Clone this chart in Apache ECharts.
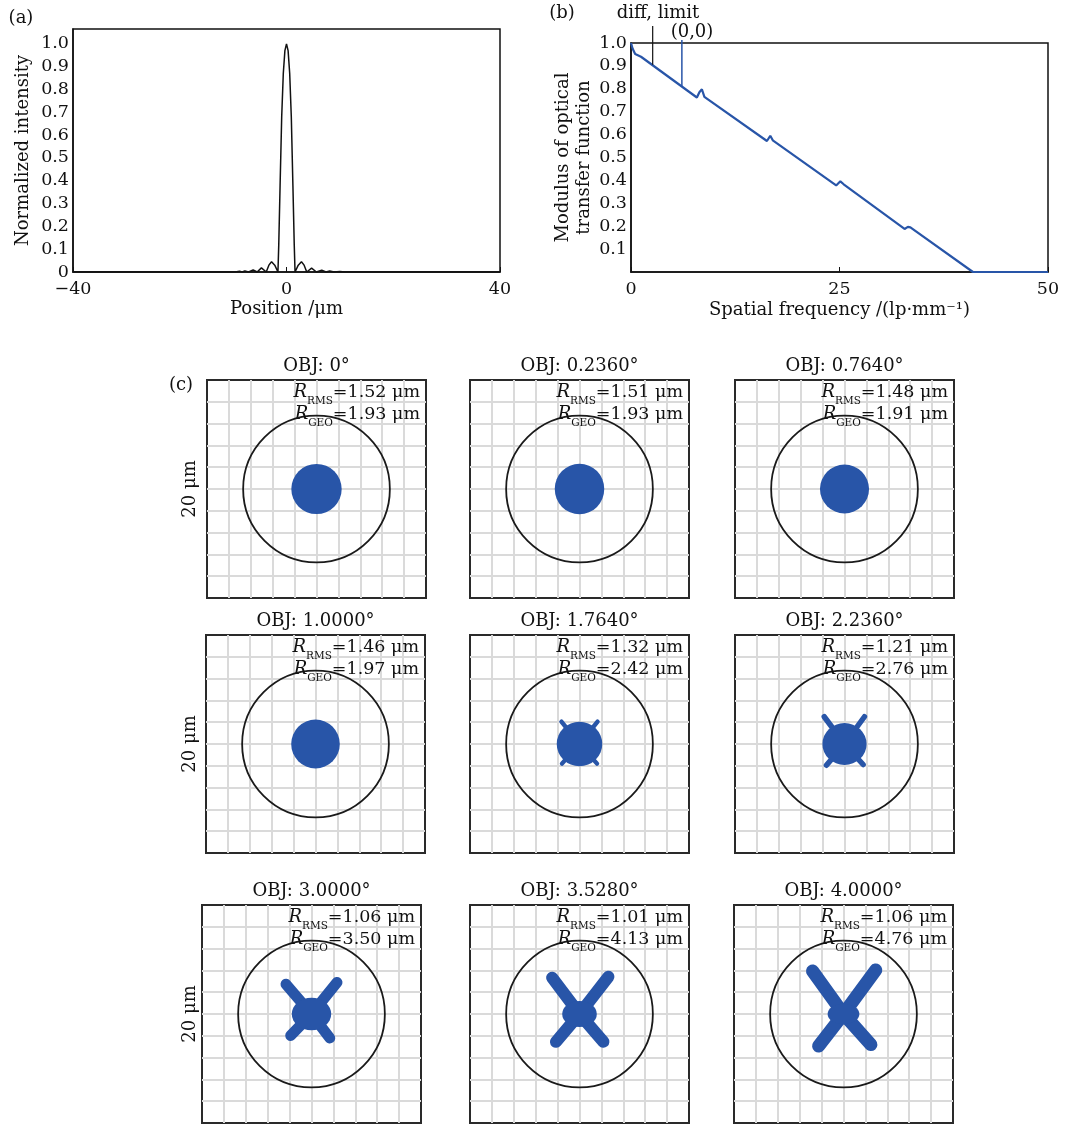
<!DOCTYPE html>
<html>
<head>
<meta charset="utf-8">
<script src="https://cdn.jsdelivr.net/npm/echarts@6/dist/echarts.min.js"></script>
<style>
  html, body { margin: 0; padding: 0; background: #fff; }
  #chart { width: 1082px; height: 1125px; }
</style>
</head>
<body>
<div id="chart"></div>
<script>
// (a) line spread function
const psfPosition = [-40, -11, -9.6, -8.8, -8.3, -7.8, -7.1, -6.25, -5.5, -4.7, -3.8, -3.3, -2.8, -2.2, -1.6, -1.45, -1.2, -0.9, -0.6, -0.3, 0,
  0.3, 0.6, 0.9, 1.2, 1.45, 1.6, 2.2, 2.8, 3.3, 3.8, 4.7, 5.6, 6.6, 7.4, 8.1, 8.9, 10, 11, 40];
const psfIntensity = [0, 0, 0, 0.003, 0, 0.005, 0, 0.009, 0, 0.018, 0, 0.03, 0.045, 0.03, 0, 0.12, 0.38, 0.68, 0.87, 0.97, 1.0,
  0.97, 0.87, 0.68, 0.38, 0.12, 0, 0.03, 0.045, 0.03, 0, 0.017, 0, 0.008, 0, 0.004, 0, 0.002, 0, 0];

// (b) MTF
const mtfFrequency = [0, 0.2, 0.5, 1.2, 7.9, 8.2, 8.5, 8.8, 16.3, 16.7, 17.0, 24.6, 25.1, 25.5, 32.8, 33.2, 33.5, 41.0, 50];
const mtfModulus = [1.0, 0.975, 0.952, 0.94, 0.762, 0.785, 0.798, 0.765, 0.572, 0.595, 0.575, 0.378, 0.396, 0.383, 0.188, 0.197, 0.195, 0, 0];
const diffLimitMark = [[2.6, 0.905], [2.6, 1.074]];
const originMark = [[6.1, 0.81], [6.1, 1.013]];

// (c) spot diagrams, units um
const fieldAngles = ['0°', '0.2360°', '0.7640°', '1.0000°', '1.7640°', '2.2360°', '3.0000°', '3.5280°', '4.0000°'];
const rmsRadius = ['1.52', '1.51', '1.48', '1.46', '1.32', '1.21', '1.06', '1.01', '1.06'];
const geoRadius = ['1.93', '1.93', '1.91', '1.97', '2.42', '2.76', '3.50', '4.13', '4.76'];
const airyRadius = 6.7;
const coreRadius = [[2.3, 2.3], [2.26, 2.32], [2.24, 2.24], [2.22, 2.24], [2.08, 2.03], [2.02, 1.92], [1.8, 1.5], [1.58, 1.2], [1.45, 0.95]];
const armTips = [
  [], [], [], [],
  [[-1.65, 2.05], [1.65, 2.05], [-1.6, -1.8], [1.6, -1.8]],
  [[-1.85, 2.5], [1.82, 2.5], [-1.65, -1.95], [1.7, -1.88]],
  [[-2.33, 2.73], [2.33, 2.9], [-1.9, -1.97], [1.67, -2.2]],
  [[-2.5, 3.33], [2.64, 3.42], [-2.15, -2.55], [2.18, -2.55]],
  [[-2.82, 3.94], [2.94, 4.03], [-2.27, -2.94], [2.5, -2.8]]
];
const armWidth = [0, 0, 0, 0, 0.4, 0.5, 1.0, 1.1, 1.2];

const FONT = 'DejaVu Serif';
const INK = '#111';
const BLUE = '#2855a8';

const chart = echarts.init(document.getElementById('chart'));

const tickFont = { fontFamily: FONT, fontSize: 17.5, color: INK };
const nameFont = { fontFamily: FONT, fontSize: 18, color: INK };

const grid = [
  { left: 73, top: 29, width: 427, height: 243, show: true, borderColor: INK, borderWidth: 1.5 },
  { left: 631, top: 43, width: 417, height: 229, show: true, borderColor: INK, borderWidth: 1.5 }
];
const xAxis = [
  {
    type: 'value', gridIndex: 0, min: -40, max: 40, interval: 40,
    name: 'Position /μm', nameLocation: 'middle', nameGap: 28, nameTextStyle: nameFont,
    axisLine: { onZero: false, lineStyle: { color: INK, width: 1.5 } },
    axisTick: { inside: true, length: 5, lineStyle: { color: INK } },
    axisLabel: Object.assign({ margin: 8, formatter: v => (v < 0 ? '−' + Math.abs(v) : String(v)) }, tickFont),
    splitLine: { show: false }
  },
  {
    type: 'value', gridIndex: 1, min: 0, max: 50, interval: 25,
    name: 'Spatial frequency /(lp·mm⁻¹)', nameLocation: 'middle', nameGap: 29, nameTextStyle: nameFont,
    axisLine: { onZero: false, lineStyle: { color: INK, width: 1.5 } },
    axisTick: { inside: true, length: 5, lineStyle: { color: INK } },
    axisLabel: Object.assign({ margin: 8 }, tickFont),
    splitLine: { show: false }
  }
];
const yAxis = [
  {
    type: 'value', gridIndex: 0, min: 0, max: 1.065, interval: 0.1,
    name: 'Normalized intensity', nameLocation: 'middle', nameGap: 41, nameTextStyle: nameFont,
    axisLine: { onZero: false, lineStyle: { color: INK, width: 1.5 } },
    axisTick: { show: false },
    axisLabel: Object.assign({ margin: 4, formatter: v => (v > 1.001 ? '' : (v === 0 ? '0' : v.toFixed(1))) }, tickFont),
    splitLine: { show: false }
  },
  {
    type: 'value', gridIndex: 1, min: 0, max: 1, interval: 0.1,
    name: 'Modulus of optical\ntransfer function', nameLocation: 'middle', nameGap: 36,
    nameTextStyle: Object.assign({ lineHeight: 21 }, nameFont),
    axisLine: { onZero: false, lineStyle: { color: INK, width: 1.5 } },
    axisTick: { show: false },
    axisLabel: Object.assign({ margin: 4, formatter: v => (v === 0 ? '' : v.toFixed(1)) }, tickFont),
    splitLine: { show: false }
  }
];

const series = [
  {
    type: 'line', xAxisIndex: 0, yAxisIndex: 0, showSymbol: false, silent: true,
    data: psfPosition.map((x, i) => [x, psfIntensity[i]]),
    lineStyle: { color: INK, width: 1.5 }
  },
  {
    type: 'line', xAxisIndex: 1, yAxisIndex: 1, showSymbol: false, silent: true,
    data: mtfFrequency.map((x, i) => [x, mtfModulus[i]]),
    lineStyle: { color: BLUE, width: 2.2 }
  },
  {
    type: 'line', xAxisIndex: 1, yAxisIndex: 1, showSymbol: false, silent: true, clip: false,
    data: diffLimitMark, lineStyle: { color: INK, width: 1.2 }
  },
  {
    type: 'line', xAxisIndex: 1, yAxisIndex: 1, showSymbol: false, silent: true, clip: false,
    data: originMark, lineStyle: { color: BLUE, width: 1.5 }
  }
];

const labelStyle = text => ({ text: text, fontFamily: FONT, fontSize: 18, fill: INK, align: 'center', verticalAlign: 'middle' });
const graphic = [
  { type: 'text', x: 21, y: 18, style: labelStyle('(a)') },
  { type: 'text', x: 562, y: 13, style: labelStyle('(b)') },
  { type: 'text', x: 181, y: 385, style: labelStyle('(c)') },
  { type: 'text', x: 658, y: 13, style: labelStyle('diff, limit') },
  { type: 'text', x: 692, y: 32, style: labelStyle('(0,0)') }
];

// spot panel layout
const rowTop = [380, 635, 905];
const colLeft = [[207, 470, 735], [206, 470, 735], [202, 470, 734]];
const boxW = 219, boxH = 218;

function renderAiry(params, api) {
  const c = api.coord([api.value(0), api.value(1)]);
  const r = api.size([api.value(2), 0])[0];
  return { type: 'circle', shape: { cx: c[0], cy: c[1], r: r }, style: { fill: 'none', stroke: '#1a1a1a', lineWidth: 1.8 } };
}
function renderArm(params, api) {
  const p0 = api.coord([api.value(0), api.value(1)]);
  const p1 = api.coord([api.value(2), api.value(3)]);
  const w = api.size([api.value(4), 0])[0];
  return { type: 'line', shape: { x1: p0[0], y1: p0[1], x2: p1[0], y2: p1[1] }, style: { stroke: BLUE, lineWidth: w, lineCap: 'round' } };
}
function renderCore(params, api) {
  const c = api.coord([api.value(0), api.value(1)]);
  const s = api.size([api.value(2), api.value(3)]);
  return { type: 'circle', x: c[0], y: c[1], scaleY: s[1] / s[0], shape: { cx: 0, cy: 0, r: s[0] }, style: { fill: BLUE } };
}

fieldAngles.forEach((angle, i) => {
  const row = Math.floor(i / 3), col = i % 3;
  const left = colLeft[row][col], top = rowTop[row];
  const g = grid.length;
  grid.push({ left: left, top: top, width: boxW, height: boxH, show: true, borderColor: '#2a2a2a', borderWidth: 2 });
  const spotAxis = {
    type: 'value', gridIndex: g, min: -10, max: 10, interval: 2,
    axisLine: { show: false }, axisTick: { show: false }, axisLabel: { show: false },
    splitLine: { show: true, showMinLine: false, showMaxLine: false, lineStyle: { color: '#dadada', width: 2 } }
  };
  xAxis.push(Object.assign({}, spotAxis));
  yAxis.push(Object.assign({}, spotAxis));
  series.push({ type: 'custom', xAxisIndex: g, yAxisIndex: g, silent: true, data: [[0, 0, airyRadius]], renderItem: renderAiry });
  series.push({
    type: 'custom', xAxisIndex: g, yAxisIndex: g, silent: true,
    data: armTips[i].map(t => [0, 0, t[0], t[1], armWidth[i]]), renderItem: renderArm
  });
  series.push({ type: 'custom', xAxisIndex: g, yAxisIndex: g, silent: true, data: [[0, 0, coreRadius[i][0], coreRadius[i][1]]], renderItem: renderCore });

  const rich = {
    r: { fontFamily: FONT, fontSize: 18, fontStyle: 'italic', fill: INK },
    s: { fontFamily: FONT, fontSize: 10.5, fill: INK, padding: [18, 0, 0, 0] }
  };
  graphic.push({ type: 'text', x: left + boxW / 2, y: top - 14, style: labelStyle('OBJ: ' + angle) });
  graphic.push({ type: 'text', x: left + boxW - 6, y: top + 12, z: 10, style: { text: '{r|R}{s|RMS}=' + rmsRadius[i] + ' μm', rich: rich, fontFamily: FONT, fontSize: 17.5, fill: INK, align: 'right', verticalAlign: 'middle' } });
  graphic.push({ type: 'text', x: left + boxW - 6, y: top + 34, z: 10, style: { text: '{r|R}{s|GEO}=' + geoRadius[i] + ' μm', rich: rich, fontFamily: FONT, fontSize: 17.5, fill: INK, align: 'right', verticalAlign: 'middle' } });
  if (col === 0) {
    graphic.push({ type: 'text', x: 190, y: top + boxH / 2, rotation: Math.PI / 2, style: labelStyle('20 μm') });
  }
});

chart.setOption({
  animation: false,
  backgroundColor: '#fff',
  grid: grid,
  xAxis: xAxis,
  yAxis: yAxis,
  series: series,
  graphic: graphic
});
</script>
</body>
</html>
